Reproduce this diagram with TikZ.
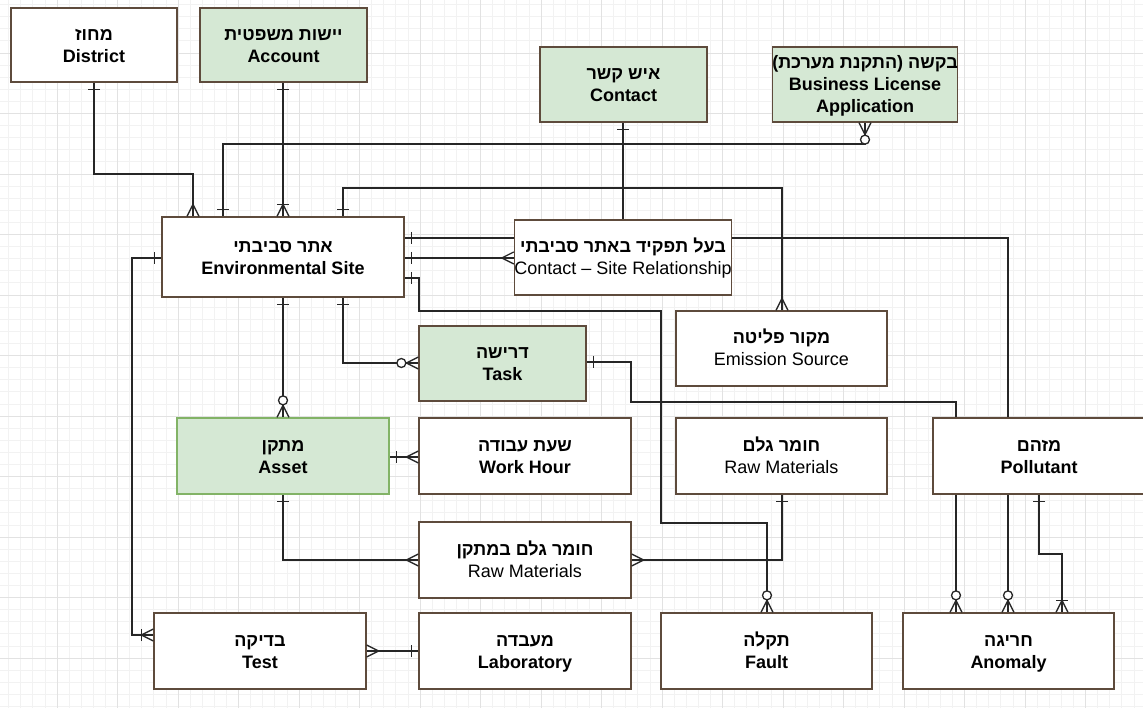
\documentclass[tikz,border=0pt]{standalone}
\usepackage{fontspec}
\setmainfont{Liberation Sans}
\newfontfamily\heb[Script=Hebrew]{Liberation Sans}
\TeXXeTstate=1
\newcommand\hb[1]{\raisebox{0pt}[16pt][0pt]{\heb\bfseries\beginR #1\endR}}
\newcommand\lastl[1]{\raisebox{0pt}[0pt][3pt]{#1}}
\pgfdeclarelayer{gridlayer}
\pgfdeclarelayer{edges}
\pgfsetlayers{gridlayer,edges,main}
\definecolor{boxbrd}{HTML}{5E4B3C}
\definecolor{greenfill}{HTML}{D5E8D4}
\definecolor{greenbrd}{HTML}{82B366}
\definecolor{gmin}{HTML}{F2F2F2}
\definecolor{gmaj}{HTML}{E2E2E2}
\tikzset{
 ent/.style={draw=boxbrd, fill=white, line width=1.3pt, rectangle, inner sep=0pt, align=center, font=\fontsize{18}{22}\selectfont},
 gent/.style={ent, fill=greenfill},
 conn/.style={draw=black!85, line width=1.3pt},
 mk/.style={draw=black!85, line width=1.3pt},
 pics/one/.style={code={\draw[mk] (7,-6)--(7,6);}},
 pics/many/.style={code={\draw[mk] (0,-6)--(12,0)--(0,6);}},
 pics/onemany/.style={code={\draw[mk] (0,-6)--(12,0)--(0,6); \draw[mk] (12,-6)--(12,6);}},
 pics/zeromany/.style={code={\draw[mk] (0,-6)--(12,0)--(0,6); \draw[mk,fill=white] (17,0) circle (4.5pt);}},
}
\begin{document}
\begin{tikzpicture}[x=1pt,y=-1pt]
\useasboundingbox (0,0) rectangle (1143,708);
\begin{pgfonlayer}{gridlayer}
\fill[white] (0,0) rectangle (1143,708);
\foreach \i in {0,...,95} {\draw[gmin, line width=0.8pt] ({-3.5+12.1*\i},0) -- ({-3.5+12.1*\i},708);}
\foreach \i in {0,...,59} {\draw[gmin, line width=0.8pt] (0,{-7.5+12.1*\i}) -- (1143,{-7.5+12.1*\i});}
\foreach \i in {0,...,19} {\draw[gmaj, line width=0.8pt] ({-3.5+60.5*\i},0) -- ({-3.5+60.5*\i},708);}
\foreach \i in {0,...,12} {\draw[gmaj, line width=0.8pt] (0,{-7.5+60.5*\i}) -- (1143,{-7.5+60.5*\i});}
\end{pgfonlayer}

% entities
\node[ent, minimum width=166pt, minimum height=74pt] (district) at (94,45) {\hb{מחוז}\\\lastl{\textbf{District}}};
\node[gent, minimum width=167pt, minimum height=74pt] (account) at (283.5,45) {\hb{יישות משפטית}\\\lastl{\textbf{Account}}};
\node[gent, minimum width=167pt, minimum height=75pt] (contact) at (623.5,84.5) {\hb{איש קשר}\\\lastl{\textbf{Contact}}};
\node[gent, minimum width=166pt, minimum height=75pt] (bla) at (865,84.5) {\hb{בקשה (התקנת מערכת)}\\\textbf{Business License}\\\lastl{\textbf{Application}}};
\node[ent, minimum width=242pt, minimum height=80pt] (es) at (283,257) {\hb{אתר סביבתי}\\\lastl{\textbf{Environmental Site}}};
\node[ent, minimum width=212pt, minimum height=75pt] (csr) at (623,257.5) {\hb{בעל תפקיד באתר סביבתי}\\\lastl{Contact – Site Relationship}};
\node[ent, minimum width=211pt, minimum height=75pt] (emis) at (781.5,348.5) {\hb{מקור פליטה}\\\lastl{Emission Source}};
\node[gent, minimum width=167pt, minimum height=75pt] (task) at (502.5,363.5) {\hb{דרישה}\\\lastl{\textbf{Task}}};
\node[gent, draw=greenbrd, minimum width=212pt, minimum height=76pt] (asset) at (283,456) {\hb{מתקן}\\\lastl{\textbf{Asset}}};
\node[ent, minimum width=212pt, minimum height=76pt] (work) at (525,456) {\hb{שעת עבודה}\\\lastl{\textbf{Work Hour}}};
\node[ent, minimum width=211pt, minimum height=76pt] (rawtop) at (781.5,456) {\hb{חומר גלם}\\\lastl{Raw Materials}};
\node[ent, minimum width=212pt, minimum height=76pt] (poll) at (1039,456) {\hb{מזהם}\\\lastl{\textbf{Pollutant}}};
\node[ent, minimum width=212pt, minimum height=76pt] (rawmid) at (525,560) {\hb{חומר גלם במתקן}\\\lastl{Raw Materials}};
\node[ent, minimum width=212pt, minimum height=76pt] (test) at (260,651) {\hb{בדיקה}\\\lastl{\textbf{Test}}};
\node[ent, minimum width=212pt, minimum height=76pt] (lab) at (525,651) {\hb{מעבדה}\\\lastl{\textbf{Laboratory}}};
\node[ent, minimum width=211pt, minimum height=76pt] (fault) at (766.5,651) {\hb{תקלה}\\\lastl{\textbf{Fault}}};
\node[ent, minimum width=211pt, minimum height=76pt] (anom) at (1008.5,651) {\hb{חריגה}\\\lastl{\textbf{Anomaly}}};

% connectors
\begin{pgfonlayer}{edges}
\draw[conn] (district.south -| 94,0) -- (94,174) -| (es.north -| 193,0);
\draw[conn] (account.south -| 283,0) -- (es.north -| 283,0);
\draw[conn] (es.north -| 223,0) |- (865,144) -- (bla.south -| 865,0);
\draw[conn] (es.north -| 343,0) |- (782,188) -- (emis.north -| 782,0);
\draw[conn] (contact.south -| 623,0) -- (csr.north -| 623,0);
\draw[conn] (es.east |- 0,258) -- (csr.west |- 0,258);
\draw[conn] (es.east |- 0,238) -| (anom.north -| 1008,0);
\draw[conn] (es.east |- 0,278) -| (419,311) -| (661,523) -| (fault.north -| 767,0);
\draw[conn] (es.west |- 0,258) -| (132,635) -- (test.west |- 0,635);
\draw[conn] (es.south -| 283,0) -- (asset.north -| 283,0);
\draw[conn] (es.south -| 343,0) |- (task.west |- 0,363);
\draw[conn] (task.east |- 0,362) -| (631,402) -| (anom.north -| 956,0);
\draw[conn] (asset.east |- 0,457) -- (work.west |- 0,457);
\draw[conn] (asset.south -| 283,0) |- (rawmid.west |- 0,560);
\draw[conn] (rawtop.south -| 782,0) |- (rawmid.east |- 0,560);
\draw[conn] (test.east |- 0,651) -- (lab.west |- 0,651);
\draw[conn] (poll.south -| 1039,0) |- (1062,554) -- (anom.north -| 1062,0);
\end{pgfonlayer}

% end marks
\pic[rotate=-90] at (district.south -| 94,0) {one};
\pic[rotate=90] at (es.north -| 193,0) {many};
\pic[rotate=-90] at (account.south -| 283,0) {one};
\pic[rotate=90] at (es.north -| 283,0) {onemany};
\pic[rotate=90] at (es.north -| 223,0) {one};
\pic[rotate=-90] at (bla.south -| 865,0) {zeromany};
\pic[rotate=90] at (es.north -| 343,0) {one};
\pic[rotate=90] at (emis.north -| 782,0) {many};
\pic[rotate=-90] at (contact.south -| 623,0) {one};
\pic[rotate=0] at (es.east |- 0,258) {one};
\pic[rotate=180] at (csr.west |- 0,258) {many};
\pic[rotate=0] at (es.east |- 0,238) {one};
\pic[rotate=90] at (anom.north -| 1008,0) {zeromany};
\pic[rotate=0] at (es.east |- 0,278) {one};
\pic[rotate=90] at (fault.north -| 767,0) {zeromany};
\pic[rotate=180] at (es.west |- 0,258) {one};
\pic[rotate=180] at (test.west |- 0,635) {onemany};
\pic[rotate=-90] at (es.south -| 283,0) {one};
\pic[rotate=90] at (asset.north -| 283,0) {zeromany};
\pic[rotate=-90] at (es.south -| 343,0) {one};
\pic[rotate=180] at (task.west |- 0,363) {zeromany};
\pic[rotate=0] at (task.east |- 0,362) {one};
\pic[rotate=90] at (anom.north -| 956,0) {zeromany};
\pic[rotate=0] at (asset.east |- 0,457) {one};
\pic[rotate=180] at (work.west |- 0,457) {many};
\pic[rotate=-90] at (asset.south -| 283,0) {one};
\pic[rotate=180] at (rawmid.west |- 0,560) {many};
\pic[rotate=-90] at (rawtop.south -| 782,0) {one};
\pic[rotate=0] at (rawmid.east |- 0,560) {many};
\pic[rotate=0] at (test.east |- 0,651) {many};
\pic[rotate=180] at (lab.west |- 0,651) {one};
\pic[rotate=-90] at (poll.south -| 1039,0) {one};
\pic[rotate=90] at (anom.north -| 1062,0) {onemany};
\end{tikzpicture}
\end{document}
